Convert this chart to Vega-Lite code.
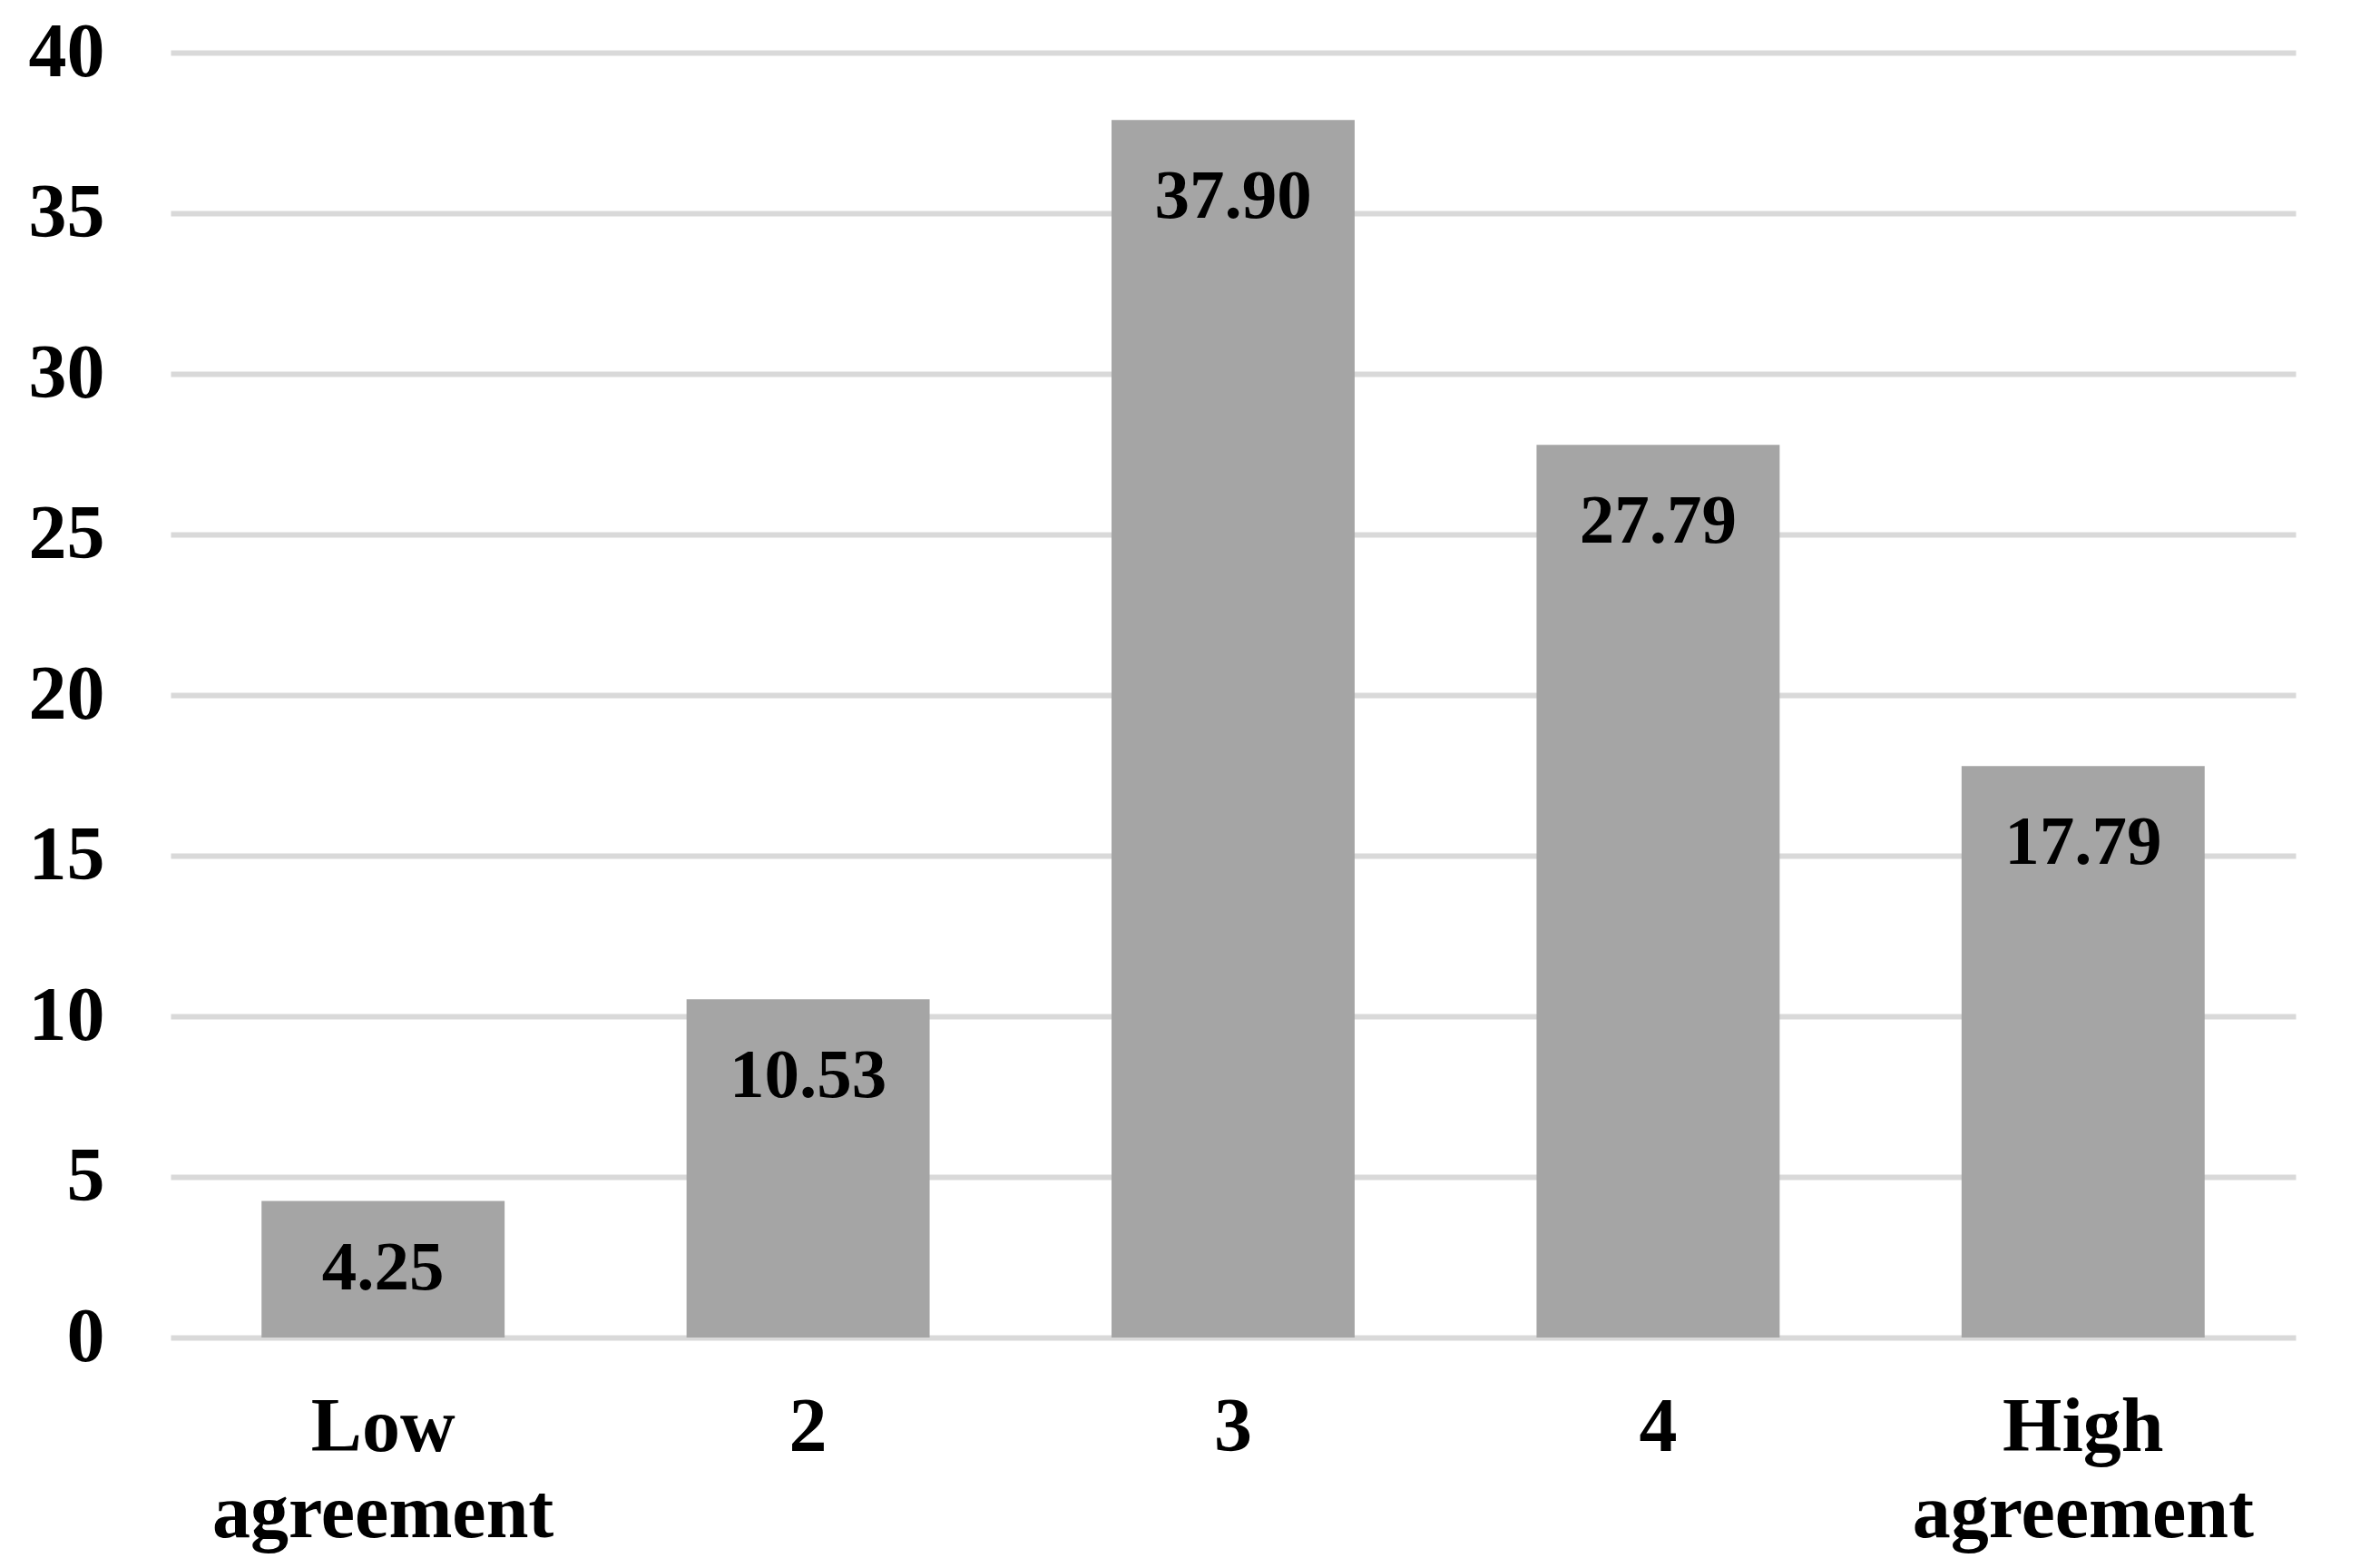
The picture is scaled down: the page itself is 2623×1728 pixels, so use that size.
{
  "$schema": "https://vega.github.io/schema/vega-lite/v6.json",
  "width": 2342,
  "height": 1416,
  "autosize": "none",
  "padding": {"left": 188, "top": 58, "right": 93, "bottom": 254},
  "background": "white",
  "config": {"view": {"stroke": null}},
  "data": {
    "values": [
      {"category": "Low agreement", "value": 4.25},
      {"category": "2", "value": 10.53},
      {"category": "3", "value": 37.90},
      {"category": "4", "value": 27.79},
      {"category": "High agreement", "value": 17.79}
    ]
  },
  "encoding": {
    "x": {
      "field": "category",
      "type": "nominal",
      "sort": null,
      "scale": {"paddingInner": 0.428, "paddingOuter": 0.214},
      "axis": {
        "title": null,
        "labelAngle": 0,
        "labelExpr": "split(datum.label, ' ')",
        "labelLineHeight": 95,
        "labelLimit": 0,
        "labelFont": "Liberation Serif",
        "labelFontWeight": "bold",
        "labelFontSize": 84,
        "labelColor": "#000000",
        "labelPadding": 58,
        "labelOverlap": false,
        "ticks": false,
        "tickSize": 0,
        "domain": false,
        "grid": false
      }
    },
    "y": {
      "field": "value",
      "type": "quantitative",
      "scale": {"domain": [0, 40], "nice": false},
      "axis": {
        "title": null,
        "values": [0, 5, 10, 15, 20, 25, 30, 35, 40],
        "grid": true,
        "gridColor": "#D9D9D9",
        "gridWidth": 6,
        "domain": false,
        "ticks": false,
        "tickSize": 0,
        "labelFont": "Liberation Serif",
        "labelFontWeight": "bold",
        "labelFontSize": 84,
        "labelColor": "#000000",
        "labelPadding": 73
      }
    }
  },
  "layer": [
    {"mark": {"type": "bar", "color": "#A5A5A5"}},
    {
      "transform": [{"filter": "datum.value >= 5"}],
      "mark": {"type": "text", "font": "Liberation Serif", "fontWeight": "bold", "fontSize": 77, "baseline": "alphabetic", "align": "center", "dy": 108, "color": "#000000"},
      "encoding": {"text": {"field": "value", "type": "quantitative", "format": ".2f"}}
    },
    {
      "transform": [{"filter": "datum.value < 5"}],
      "mark": {"type": "text", "font": "Liberation Serif", "fontWeight": "bold", "fontSize": 77, "baseline": "alphabetic", "align": "center", "dy": 97, "color": "#000000"},
      "encoding": {"text": {"field": "value", "type": "quantitative", "format": ".2f"}}
    }
  ]
}
